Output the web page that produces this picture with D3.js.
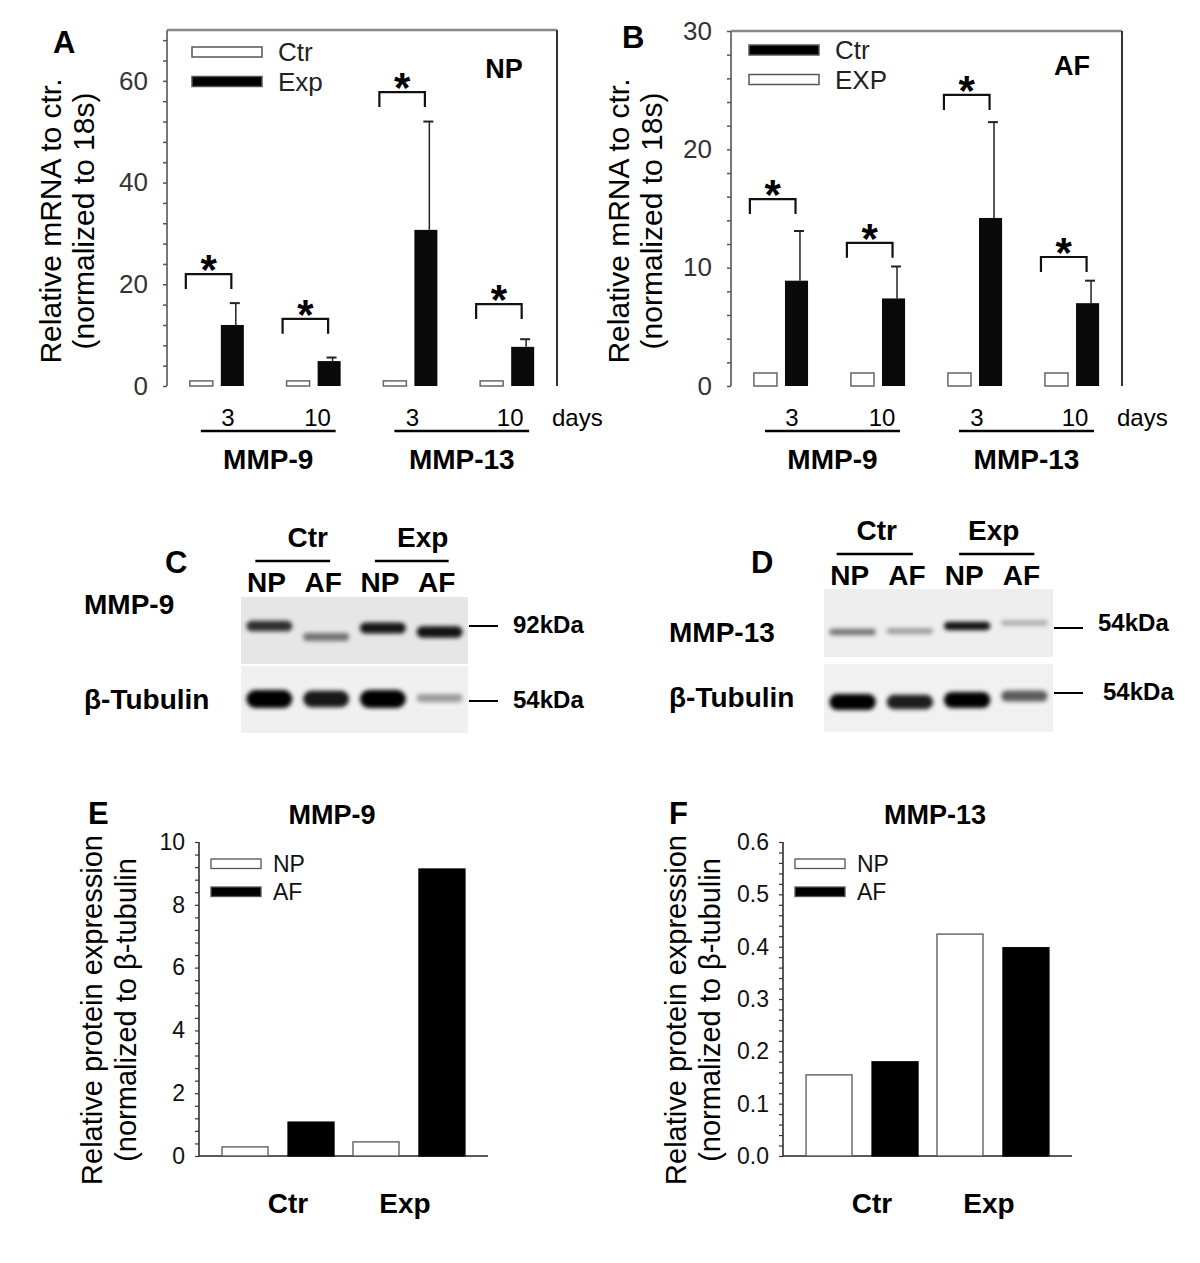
<!DOCTYPE html>
<html>
<head>
<meta charset="utf-8">
<script src="https://cdn.jsdelivr.net/npm/d3@7"></script>
<style>
  body { margin: 0; background: #fff; }
  text { font-family: "Liberation Sans", Arial, Helvetica, sans-serif; }
</style>
</head>
<body>
<svg id="fig"></svg>
<script>
// ---- data ----
var mrnaGroups = ["MMP-9 3d", "MMP-9 10d", "MMP-13 3d", "MMP-13 10d"];
var mrnaDays = ["3", "10", "3", "10"];
var mrnaGenes = ["MMP-9", "MMP-13"];

// panel A (NP)
var npCtr = [1, 1, 1, 1];
var npExp = [12.0, 4.9, 30.7, 7.7];
var npExpSd = [4.3, 0.7, 21.3, 1.5];
var npStar = [22.0, 13.2, 57.8, 16.1];   // height of significance bracket

// panel B (AF)
var afCtr = [1.1, 1.1, 1.1, 1.1];
var afExp = [8.9, 7.4, 14.2, 7.0];
var afExpSd = [4.2, 2.7, 8.1, 1.9];
var afStar = [15.8, 12.1, 24.6, 10.9];

var legendA = ["Ctr", "Exp"];
var legendB = ["Ctr", "EXP"];

// western blots (relative band strength 0..1)
var blotGroups = ["Ctr", "Exp"];
var blotLanes = ["NP", "AF", "NP", "AF"];
var blotC_mmp9 = [0.8, 0.5, 0.9, 0.92];
var blotC_tub = [1.0, 0.9, 1.0, 0.35];
var blotD_mmp13 = [0.5, 0.35, 0.92, 0.28];
var blotD_tub = [1.0, 0.88, 1.0, 0.62];

// densitometry (panels E, F)
var protCats = ["Ctr", "Exp"];
var protSeries = ["NP", "AF"];
var mmp9NP = [0.29, 0.45];
var mmp9AF = [1.08, 9.14];
var mmp13NP = [0.155, 0.424];
var mmp13AF = [0.18, 0.398];

var svg = d3.select("#fig").attr("width", 1200).attr("height", 1263);

// filter for blurred blot bands
var defs = svg.append("defs");
defs.append("filter").attr("id", "blur").attr("x", "-20%").attr("y", "-80%")
  .attr("width", "140%").attr("height", "260%")
  .append("feGaussianBlur").attr("stdDeviation", 1.9);

function label(g, x, y, txt, size, weight, anchor, color) {
  return g.append("text")
    .attr("x", x).attr("y", y)
    .attr("font-size", size)
    .attr("font-weight", weight || "normal")
    .attr("text-anchor", anchor || "start")
    .attr("fill", color || "#000")
    .text(txt);
}

// ---- mRNA bar charts (A, B) ----
function drawMrna(cfg) {
  var g = svg.append("g");
  var y = d3.scaleLinear().domain([0, cfg.max]).range([386, cfg.top]);
  var x = d3.scaleBand().domain(mrnaGroups).range([cfg.left, cfg.right])
    .paddingInner(0.4).paddingOuter(0.215);
  var xs = d3.scaleBand().domain(["Ctr", "Exp"]).range([0, x.bandwidth()])
    .paddingInner(0.258).paddingOuter(0.065);
  var bw = xs.bandwidth();

  // frame
  g.append("line").attr("x1", cfg.left).attr("x2", cfg.right).attr("y1", y(cfg.max)).attr("y2", y(cfg.max))
    .attr("stroke", "#888").attr("stroke-width", 2.5);
  g.append("line").attr("x1", cfg.right).attr("x2", cfg.right).attr("y1", y(cfg.max)).attr("y2", 386)
    .attr("stroke", "#333").attr("stroke-width", 2);

  var ticks = d3.range(0, cfg.max + 1e-6, cfg.minor);
  var axis = d3.axisLeft(y).tickValues(ticks).tickSize(4).tickPadding(15)
    .tickFormat(d => d % cfg.major === 0 ? d : "");
  var ag = g.append("g").attr("transform", "translate(" + cfg.left + ",0)").call(axis);
  ag.select(".domain").attr("stroke", "#777").attr("stroke-width", 2).attr("d", "M0," + y(cfg.max) + "V386");
  ag.selectAll(".tick line").attr("stroke", "#555").attr("stroke-width", 1.5);
  ag.selectAll(".tick text").attr("font-size", 26).attr("fill", "#333")
    .attr("font-family", "'Liberation Sans', Arial, sans-serif");

  // bars
  var bars = g.append("g");
  bars.selectAll(".ctr").data(cfg.ctr).enter().append("rect")
    .attr("x", (d, i) => x(mrnaGroups[i]) + xs("Ctr"))
    .attr("y", d => y(d)).attr("width", bw).attr("height", d => 386 - y(d))
    .attr("fill", "#fff").attr("stroke", "#666").attr("stroke-width", 1.5);
  bars.selectAll(".exp").data(cfg.exp).enter().append("rect")
    .attr("x", (d, i) => x(mrnaGroups[i]) + xs("Exp"))
    .attr("y", d => y(d)).attr("width", bw).attr("height", d => 386 - y(d))
    .attr("fill", "#0a0a0a");

  // error bars (upper only)
  cfg.exp.forEach(function(d, i) {
    var ex = x(mrnaGroups[i]) + xs("Exp") + bw * 0.65;
    var top = y(d + cfg.sd[i]);
    g.append("line").attr("x1", ex).attr("x2", ex).attr("y1", y(d)).attr("y2", top)
      .attr("stroke", "#222").attr("stroke-width", 1.5);
    g.append("line").attr("x1", ex - 6).attr("x2", ex + 4).attr("y1", top).attr("y2", top)
      .attr("stroke", "#222").attr("stroke-width", 2);
  });

  // significance brackets
  cfg.star.forEach(function(d, i) {
    var x1 = x(mrnaGroups[i]) + xs("Ctr") - 4;
    var x2 = x(mrnaGroups[i]) + xs("Exp") + bw / 2 - 1;
    var yy = y(d);
    g.append("path").attr("d", "M" + x1 + "," + (yy + 15) + "V" + yy + "H" + x2 + "V" + (yy + 15))
      .attr("fill", "none").attr("stroke", "#111").attr("stroke-width", 2.2);
    label(g, (x1 + x2) / 2, yy + 10, "*", 42, "bold", "middle");
  });

  // legend
  cfg.legend.forEach(function(name, i) {
    var ly = cfg.legendY + i * 29.5;
    g.append("rect").attr("x", cfg.left + cfg.legendDx).attr("y", ly).attr("width", 70).attr("height", 10)
      .attr("fill", cfg.legendFill[i]).attr("stroke", "#555").attr("stroke-width", 1.5);
    label(g, cfg.left + cfg.legendDx + 86, ly + 14, name, 26, "normal", "start", "#222");
  });
  label(g, cfg.tagX, cfg.tagY, cfg.tag, 27, "bold", "middle");

  // x labels
  var dayShift = [11, 4, 2, 3];
  mrnaDays.forEach(function(d, i) {
    label(g, x(mrnaGroups[i]) + x.bandwidth() / 2 + dayShift[i], 426, d, 24, "normal", "middle");
  });
  label(g, cfg.right - 5, 426, "days", 24, "normal", "start");
  mrnaGenes.forEach(function(name, j) {
    var a = x(mrnaGroups[2 * j]) + x.bandwidth() / 2 - 16;
    var b = x(mrnaGroups[2 * j + 1]) + x.bandwidth() / 2 + 22;
    g.append("line").attr("x1", a).attr("x2", b).attr("y1", 431).attr("y2", 431)
      .attr("stroke", "#000").attr("stroke-width", 2.5);
    label(g, (a + b) / 2, 469, name, 28, "bold", "middle");
  });

  // y title
  var yt = g.append("g").attr("transform", "translate(" + cfg.titleX + ",221) rotate(-90)");
  label(yt, 0, 0, "Relative mRNA to ctr.", 30, "normal", "middle");
  label(yt, 0, 33, "(normalized to 18s)", 30, "normal", "middle");

  label(g, cfg.letterX, cfg.letterY, cfg.letter, 31, "bold", "start");
}

drawMrna({ left: 167, right: 557, top: 30, max: 70, major: 20, minor: 4,
  ctr: npCtr, exp: npExp, sd: npExpSd, star: npStar,
  legend: legendA, legendFill: ["#fff", "#000"], legendDx: 25, legendY: 47,
  tag: "NP", tagX: 504, tagY: 78, letter: "A", letterX: 53, letterY: 53, titleX: 61 });

drawMrna({ left: 731, right: 1122, top: 31, max: 30, major: 10, minor: 2,
  ctr: afCtr, exp: afExp, sd: afExpSd, star: afStar,
  legend: legendB, legendFill: ["#000", "#fff"], legendDx: 18, legendY: 45,
  tag: "AF", tagX: 1072, tagY: 75, letter: "B", letterX: 622, letterY: 48, titleX: 629 });

// ---- western blots (C, D) ----
function drawBlot(cfg) {
  var g = svg.append("g");
  var lane = d3.scaleBand().domain(d3.range(blotLanes.length)).range([cfg.left, cfg.right])
    .paddingInner(0.12).paddingOuter(0.06);
  var mid = i => lane(i) + lane.bandwidth() / 2;

  label(g, cfg.letterX, 573, cfg.letter, 31, "bold", "start");

  // group headers with lines
  blotGroups.forEach(function(name, j) {
    var a = mid(2 * j) + cfg.lineA[j], b = mid(2 * j + 1) + cfg.lineB[j];
    label(g, (a + b) / 2 + cfg.headShift[j], cfg.headY, name, 28, "bold", "middle");
    g.append("line").attr("x1", a).attr("x2", b).attr("y1", cfg.headY + 14).attr("y2", cfg.headY + 14)
      .attr("stroke", "#000").attr("stroke-width", 2.5);
  });
  blotLanes.forEach(function(name, i) {
    label(g, mid(i) - 3, cfg.headY + 45, name, 28, "bold", "middle");
  });

  cfg.rows.forEach(function(row) {
    g.append("rect").attr("x", cfg.left).attr("y", row.top).attr("width", cfg.right - cfg.left)
      .attr("height", row.h).attr("fill", row.bg);
    var bandG = g.append("g").attr("filter", "url(#blur)");
    row.values.forEach(function(v, i) {
      var th = row.base + row.gain * v;
      var cy = row.bandY + row.dy[i];
      bandG.append("rect")
        .attr("x", lane(i) + 2).attr("width", lane.bandwidth() - 4)
        .attr("y", cy - th / 2).attr("height", th)
        .attr("rx", Math.min(th / 2, 10))
        .attr("fill", "#000").attr("fill-opacity", v);
    });
    label(g, cfg.rowLabelX, row.labelY, row.name, 28, "bold", "start");
    g.append("line").attr("x1", cfg.right + 1).attr("x2", cfg.right + 30)
      .attr("y1", row.markY).attr("y2", row.markY).attr("stroke", "#000").attr("stroke-width", 2);
    label(g, cfg.right + 45 + row.kdShift, row.markY + row.kdDy, row.kda, 24, "bold", "start");
  });
}

drawBlot({ left: 241, right: 468, letter: "C", letterX: 165, headY: 547, headShift: [15, 11],
  lineA: [-14, -8], lineB: [4, 9], rowLabelX: 84,
  rows: [
    { name: "MMP-9", labelY: 614, top: 597, h: 67, bg: "#e6e6e6", bandY: 628, base: 4, gain: 8,
      dy: [-2, 9, 0, 4], values: blotC_mmp9, markY: 626, kda: "92kDa", kdShift: 0, kdDy: 7 },
    { name: "\u03b2-Tubulin", labelY: 709, top: 666, h: 67, bg: "#f0f0f0", bandY: 699, base: 3, gain: 15,
      dy: [0, 0, 0, -1], values: blotC_tub, markY: 701, kda: "54kDa", kdShift: 0, kdDy: 7 }
  ] });

drawBlot({ left: 824, right: 1053, letter: "D", letterX: 751, headY: 540, headShift: [2, -3],
  lineA: [-16, -8], lineB: [3, 10], rowLabelX: 669,
  rows: [
    { name: "MMP-13", labelY: 642, top: 589, h: 68, bg: "#eeeeee", bandY: 630, base: 4, gain: 5,
      dy: [2, 1, -4, -7], values: blotD_mmp13, markY: 628, kda: "54kDa", kdShift: 0, kdDy: 3 },
    { name: "\u03b2-Tubulin", labelY: 707, top: 664, h: 68, bg: "#f1f1f1", bandY: 701, base: 3, gain: 13,
      dy: [1, 1, -1, -5], values: blotD_tub, markY: 693, kda: "54kDa", kdShift: 5, kdDy: 7 }
  ] });

// ---- protein densitometry (E, F) ----
function drawProt(cfg) {
  var g = svg.append("g");
  var y = d3.scaleLinear().domain([0, cfg.max]).range([1156, 842]);
  var x = d3.scaleBand().domain(protCats).range([cfg.left, cfg.left + 289])
    .paddingInner(0.145).paddingOuter(0.176);
  var xs = d3.scaleBand().domain(protSeries).range([0, x.bandwidth()])
    .paddingInner(0.303).paddingOuter(0);

  var n = Math.round(cfg.max / cfg.minor);
  var ticks = d3.range(n + 1).map(i => i * cfg.minor);
  var axis = d3.axisLeft(y).tickValues(ticks).tickSize(4).tickPadding(10)
    .tickFormat(function(d) {
      var k = d / cfg.major;
      return Math.abs(k - Math.round(k)) < 1e-6 ? cfg.fmt(d) : "";
    });
  var ag = g.append("g").attr("transform", "translate(" + cfg.left + ",0)").call(axis);
  ag.select(".domain").attr("stroke", "#222").attr("stroke-width", 1.5).attr("d", "M0,842V1156");
  ag.selectAll(".tick line").attr("stroke", "#333").attr("stroke-width", 1.2);
  ag.selectAll(".tick text").attr("font-size", 23).attr("fill", "#111")
    .attr("font-family", "'Liberation Sans', Arial, sans-serif");
  g.append("line").attr("x1", cfg.left).attr("x2", cfg.left + 289).attr("y1", 1156).attr("y2", 1156)
    .attr("stroke", "#222").attr("stroke-width", 1.5);

  [cfg.np, cfg.af].forEach(function(vals, s) {
    g.selectAll(".s" + s).data(vals).enter().append("rect")
      .attr("x", (d, i) => x(protCats[i]) + xs(protSeries[s]))
      .attr("y", d => y(d)).attr("width", xs.bandwidth()).attr("height", d => 1156 - y(d))
      .attr("fill", s === 0 ? "#fff" : "#000")
      .attr("stroke", s === 0 ? "#555" : "#000").attr("stroke-width", 1.3);
  });

  protSeries.forEach(function(name, i) {
    var ly = 859 + i * 28;
    g.append("rect").attr("x", cfg.left + 12).attr("y", ly).attr("width", 50).attr("height", 9.5)
      .attr("fill", i === 0 ? "#fff" : "#000").attr("stroke", "#555").attr("stroke-width", 1.3);
    label(g, cfg.left + 74, ly + 13, name, 23, "normal", "start", "#111");
  });

  var catShift = [10, -4];
  protCats.forEach(function(c, i) {
    label(g, x(c) + x.bandwidth() / 2 + catShift[i], 1213, c, 28, "bold", "middle");
  });
  label(g, cfg.left + cfg.titleDx, 824, cfg.title, 27, "bold", "middle");
  label(g, cfg.letterX, 824, cfg.letter, 31, "bold", "start");

  var yt = g.append("g").attr("transform", "translate(" + (cfg.left - 97) + ",1010) rotate(-90)");
  label(yt, 0, 0, "Relative protein expression", 29, "normal", "middle");
  label(yt, 0, 34, "(normalized to \u03b2-tubulin", 29, "normal", "middle");
}

drawProt({ left: 199, max: 10, major: 2, minor: 0.4, fmt: d3.format("d"),
  np: mmp9NP, af: mmp9AF, title: "MMP-9", titleDx: 133, letter: "E", letterX: 88 });
drawProt({ left: 783, max: 0.6, major: 0.1, minor: 0.02, fmt: d3.format(".1f"),
  np: mmp13NP, af: mmp13AF, title: "MMP-13", titleDx: 152, letter: "F", letterX: 669 });
</script>
</body>
</html>
